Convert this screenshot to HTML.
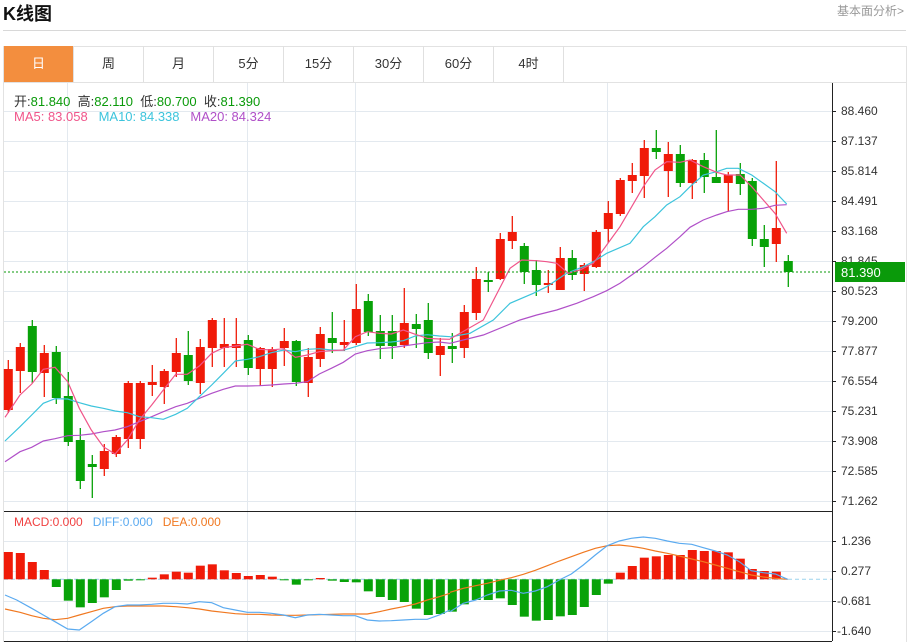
<!DOCTYPE html>
<html><head><meta charset="utf-8">
<style>
body{margin:0;width:909px;height:643px;background:#fff;overflow:hidden;font-family:"Liberation Sans","Noto Sans CJK SC",sans-serif;position:relative}
.t{position:absolute;white-space:nowrap}
.tab{position:absolute;top:46px;height:36px;width:70px;line-height:36px;text-align:center;font-size:13px;color:#333;border-right:1px solid #e0e0e0;box-sizing:border-box}
</style></head><body>
<div class="t" style="left:3px;top:0px;font-size:18px;font-weight:bold;color:#111">K线图</div>
<div class="t" style="left:837px;top:2px;font-size:12px;color:#999">基本面分析&gt;</div>
<div style="position:absolute;left:3px;top:30px;width:903px;height:1px;background:#d8d8d8"></div>
<div style="position:absolute;left:3px;top:46px;width:902px;height:595px;border:1px solid #e2e2e2;border-bottom:none"></div>
<div style="position:absolute;left:3px;top:82px;width:903px;height:1px;background:#e2e2e2"></div>
<div class="tab" style="left:4px;background:#f38e3e;color:#fff">日</div>
<div class="tab" style="left:74px">周</div>
<div class="tab" style="left:144px">月</div>
<div class="tab" style="left:214px">5分</div>
<div class="tab" style="left:284px">15分</div>
<div class="tab" style="left:354px">30分</div>
<div class="tab" style="left:424px">60分</div>
<div class="tab" style="left:494px">4时</div>
<svg id="s" width="909" height="643" style="position:absolute;left:0;top:0"></svg>
<div class="t" style="left:14px;top:91px;font-size:13px;color:#333">开:<span style="color:#0a9a0a">81.840</span>&nbsp;&nbsp;高:<span style="color:#0a9a0a">82.110</span>&nbsp;&nbsp;低:<span style="color:#0a9a0a">80.700</span>&nbsp;&nbsp;收:<span style="color:#0a9a0a">81.390</span></div>
<div class="t" style="left:14px;top:109px;font-size:13px"><span style="color:#f0558a">MA5: 83.058</span>&nbsp;&nbsp;&nbsp;<span style="color:#3cc4dc">MA10: 84.338</span>&nbsp;&nbsp;&nbsp;<span style="color:#b050c8">MA20: 84.324</span></div>
<div class="t" style="left:14px;top:515px;font-size:12px"><span style="color:#f04040">MACD:0.000</span>&nbsp;&nbsp;&nbsp;<span style="color:#5aaaf0">DIFF:0.000</span>&nbsp;&nbsp;&nbsp;<span style="color:#f07820">DEA:0.000</span></div>
<div class="t" style="left:841px;top:104px;font-size:12px;color:#333">88.460</div>
<div class="t" style="left:841px;top:134px;font-size:12px;color:#333">87.137</div>
<div class="t" style="left:841px;top:164px;font-size:12px;color:#333">85.814</div>
<div class="t" style="left:841px;top:194px;font-size:12px;color:#333">84.491</div>
<div class="t" style="left:841px;top:224px;font-size:12px;color:#333">83.168</div>
<div class="t" style="left:841px;top:254px;font-size:12px;color:#333">81.845</div>
<div class="t" style="left:841px;top:284px;font-size:12px;color:#333">80.523</div>
<div class="t" style="left:841px;top:314px;font-size:12px;color:#333">79.200</div>
<div class="t" style="left:841px;top:344px;font-size:12px;color:#333">77.877</div>
<div class="t" style="left:841px;top:374px;font-size:12px;color:#333">76.554</div>
<div class="t" style="left:841px;top:404px;font-size:12px;color:#333">75.231</div>
<div class="t" style="left:841px;top:434px;font-size:12px;color:#333">73.908</div>
<div class="t" style="left:841px;top:464px;font-size:12px;color:#333">72.585</div>
<div class="t" style="left:841px;top:494px;font-size:12px;color:#333">71.262</div>
<div class="t" style="left:841px;top:534px;font-size:12px;color:#333">1.236</div>
<div class="t" style="left:841px;top:564px;font-size:12px;color:#333">0.277</div>
<div class="t" style="left:837px;top:594px;font-size:12px;color:#333">-0.681</div>
<div class="t" style="left:837px;top:624px;font-size:12px;color:#333">-1.640</div>
<div style="position:absolute;left:835px;top:262px;width:70px;height:20px;background:#0a9a0a"></div>
<div class="t" style="left:841px;top:265px;font-size:13px;color:#fff">81.390</div>
<script>
var S=document.getElementById('s'),h='';
function L(x1,y1,x2,y2,c,w,d){h+='<line x1="'+x1+'" y1="'+y1+'" x2="'+x2+'" y2="'+y2+'" stroke="'+c+'" stroke-width="'+(w||1)+'"'+(d?' stroke-dasharray="'+d+'"':'')+'/>';}
function R(x,y,w,hh,c){h+='<rect x="'+x+'" y="'+y+'" width="'+w+'" height="'+Math.max(hh,1)+'" fill="'+c+'"/>';}
var G='#e3e9ef';
for(var y=111;y<=501;y+=30)L(4,y+.5,832,y+.5,G);
[541,571,601,631].forEach(function(y){L(4,y+.5,832,y+.5,G)});
[67,247,355,607].forEach(function(x){L(x+.5,83,x+.5,641,G)});
L(832.5,83,832.5,641,'#222');
for(var y=111;y<=501;y+=30)L(832,y+.5,836,y+.5,'#222');
[541,571,601,631].forEach(function(y){L(832,y+.5,836,y+.5,'#222')});
L(4,511.5,832,511.5,'#222');L(4,641.5,832,641.5,'#222');
var RED='#f01a08',GR='#08a208';
var C=[[1,369,410,360,413],[1,347,371,343,393],[0,326,372,320,383],[1,353,373,345,397],[0,352,398,346,404],[0,396,442,372,446],[0,440,481,428,489],[0,464,467,455,498],[1,451,469,444,476],[1,437,454,435,457],[1,383,439,381,448],[1,383,439,381,449],[1,382,385,365,396],[1,371,387,369,404],[1,353,372,338,377],[0,355,381,331,385],[1,347,383,339,394],[1,320,348,318,367],[1,344,348,318,367],[1,344,348,318,367],[0,340,368,335,375],[1,348,369,347,386],[1,349,369,347,387],[1,341,348,328,366],[0,341,382,340,386],[1,357,383,348,397],[1,334,359,327,367],[0,338,343,312,353],[1,342,345,320,351],[1,309,343,284,345],[0,301,332,294,336],[0,331,346,315,359],[0,331,346,315,359],[1,323,345,288,348],[0,324,329,314,348],[0,320,353,303,359],[1,346,355,338,376],[0,346,349,333,363],[1,312,348,305,358],[1,279,313,267,320],[0,280,282,272,292],[1,239,279,233,280],[1,232,241,216,249],[0,246,272,243,284],[0,270,285,260,296],[1,283,285,270,293],[1,258,290,247,290],[0,258,275,250,280],[1,265,274,263,291],[1,232,267,230,268],[1,213,229,201,243],[1,180,214,178,216],[1,175,181,163,193],[1,148,176,140,198],[0,148,152,130,159],[1,154,171,142,197],[0,154,183,145,187],[1,160,183,159,199],[0,160,177,153,193],[0,177,183,130,183],[1,175,183,172,211],[0,174,184,163,195],[0,181,239,178,246],[0,239,247,225,267],[1,228,244,161,262],[0,261,272,255,287]];
function X(i){return 8.3+12*i;}
C.forEach(function(c,i){var x=X(i),col=c[0]?RED:GR;L(x,c[3],x,c[4],col,1.3);R(x-4.5,c[1],9,c[2]-c[1],col);});
function P(pts,c,fx,fy){var s='';pts.forEach(function(p,i){s+=(i?'L':'M')+(fx+p[0]/3).toFixed(1)+' '+(fy+p[1]/3).toFixed(1);});h+='<path d="'+s+'" fill="none" stroke="'+c+'" stroke-width="1.2"/>';}
var ma5a=[[15,412],[60,345],[95,312],[130,268],[165,262],[203,305],[238,385],[274,450],[310,500],[345,522],[382,480],[418,420],[455,375],[490,330],[527,283],[562,283],[598,258],[635,220],[670,203],[706,198],[742,193],[778,208],[814,210],[851,206],[886,232],[922,225],[958,215],[994,212],[1030,210],[1066,170],[1102,155],[1138,160],[1174,162],[1210,150],[1246,163],[1282,175],[1318,177],[1350,178]];
var ma5b=[[0,657],[100,600],[180,445],[215,420],[260,422],[290,425],[320,430],[355,460],[390,450],[430,430],[470,375],[510,320],[545,260],[580,200],[615,150],[650,125],[690,127],[720,120],[760,140],[800,157],[830,165],[870,165],[905,200],[940,240],[975,280],[1010,340]];
var ma10a=[[15,483],[60,440],[95,405],[130,370],[165,356],[203,357],[238,368],[274,378],[310,385],[345,393],[382,398],[418,410],[455,413],[490,418],[527,403],[562,385],[598,350],[635,315],[670,280],[706,243],[742,238],[778,230],[814,218],[851,210],[886,215],[922,208],[958,206],[994,210],[1030,211],[1066,200],[1102,189],[1138,188],[1174,186],[1210,182],[1246,168],[1282,164],[1318,168],[1350,170]];
var ma10b=[[0,651],[60,640],[130,600],[180,550],[250,520],[290,500],[320,480],[350,460],[400,440],[430,425],[470,400],[540,370],[580,320],[615,290],[650,255],[690,230],[720,200],[760,165],[800,155],[830,145],[865,145],[905,165],[940,190],[975,215],[1010,252]];
var ma20a=[[15,545],[60,515],[95,502],[130,483],[165,476],[203,467],[238,466],[274,462],[310,455],[345,450],[382,440],[418,425],[455,410],[490,395],[527,380],[562,370],[598,355],[635,340],[670,328],[706,318],[742,318],[778,317],[814,315],[851,312],[886,310],[922,305],[958,282],[994,265],[1030,247],[1066,222],[1102,212],[1138,206],[1174,203],[1210,198],[1246,193],[1282,188],[1318,186],[1350,190]];
var ma20b=[[0,670],[100,645],[210,600],[260,585],[320,570],[380,550],[430,530],[470,512],[510,490],[545,465],[580,440],[615,412],[650,385],[690,350],[720,322],[760,300],[800,285],[830,275],[865,268],[905,268],[940,265],[975,256],[1010,254]];
P(ma20a,'#b050c8',0,280);P(ma20b,'#b050c8',450,120);
P(ma10a,'#3cc4dc',0,280);P(ma10b,'#3cc4dc',450,120);
P(ma5a,'#f0558a',0,280);P(ma5b,'#f0558a',450,120);
L(4,272,832,272,'#0a9a0a',1,'2,2');
var Z=579.3;
L(4,Z,832,Z,'#9cd3ee',1,'4,3');
var mb=[141,144,171,195,246,287,307,294,277,255,227,223,218,208,200,203,182,178,196,204,213,210,215,223,239,223,219,227,231,232,259,276,285,291,311,330,327,320,298,285,285,280,300,335,347,345,334,330,306,270,236,203,183,158,154,150,150,135,138,138,142,161,192,198,200];
mb.forEach(function(v,i){var y=505+v/3,x=X(i);if(y<Z)R(x-4.5,y,9,Z-y,RED);else R(x-4.5,Z,9,y-Z,GR);});
var da=[[15,270],[50,285],[95,310],[130,330],[165,350],[203,372],[238,375],[274,350],[310,325],[345,305],[382,300],[418,300],[455,298],[490,295],[527,295],[562,297],[598,290],[635,293],[670,308],[706,315],[742,322],[778,322],[814,325],[851,330],[886,338],[922,330],[958,328],[994,330],[1030,332],[1066,332],[1102,345],[1138,348],[1174,347],[1210,345],[1246,343],[1282,343],[1318,330],[1350,315]];
var db=[[0,320],[40,295],[77,285],[112,270],[148,258],[184,256],[220,265],[256,258],[292,245],[328,225],[364,207],[400,180],[436,150],[472,122],[508,108],[544,100],[580,96],[616,100],[652,108],[688,115],[725,118],[760,128],[796,138],[832,150],[868,170],[904,197],[940,203],[976,207],[1013,223]];
var ea=[[15,312],[60,322],[95,332],[130,340],[165,344],[203,340],[238,330],[274,320],[310,310],[345,305],[382,303],[418,303],[455,303],[490,303],[527,305],[562,308],[598,312],[635,318],[670,322],[706,326],[742,328],[778,328],[814,330],[851,331],[886,331],[922,330],[958,329],[994,328],[1030,327],[1066,327],[1102,327],[1138,320],[1174,312],[1210,305],[1246,297],[1282,285],[1318,275],[1350,265]];
var eb=[[0,262],[40,250],[77,242],[112,235],[148,226],[184,218],[220,208],[256,196],[292,182],[328,168],[364,155],[400,142],[436,130],[472,122],[508,120],[544,124],[580,130],[616,138],[652,145],[688,153],[725,162],[760,170],[796,180],[832,190],[868,200],[904,210],[940,216],[976,220],[1013,223]];
P(ea,'#f07820',0,505);P(eb,'#f07820',450,505);
P(da,'#5aaaf0',0,505);P(db,'#5aaaf0',450,505);
S.innerHTML=h;
</script>
</body></html>
